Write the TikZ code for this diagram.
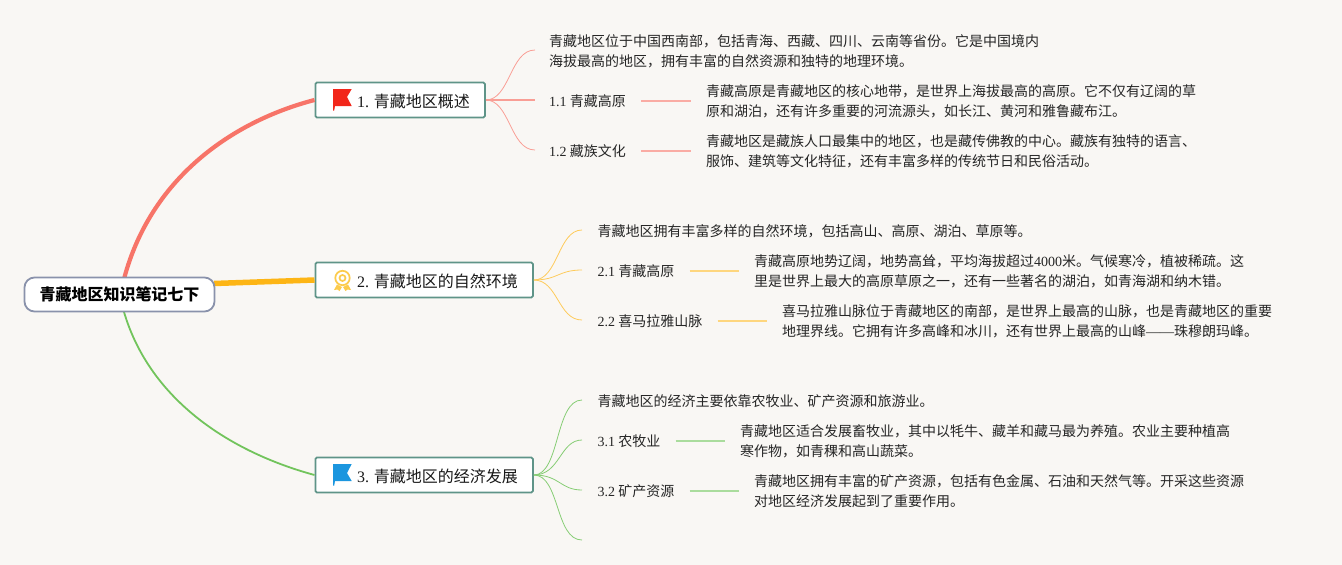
\documentclass[tikz,border=0pt]{standalone}
\usepackage{fontspec}
\setmainfont{Liberation Serif}
\newfontfamily\cjk{Noto Sans CJK SC}
\definecolor{paper}{HTML}{F9F7F4}
\definecolor{tealline}{HTML}{5F9488}
\definecolor{rootline}{HTML}{8A92AB}
\definecolor{redline}{HTML}{F77468}
\definecolor{yellowline}{HTML}{FDB515}
\definecolor{greenline}{HTML}{72C45C}
\definecolor{flagred}{HTML}{F2261A}
\definecolor{flagblue}{HTML}{1B96DF}
\definecolor{badge}{HTML}{FCCB4C}
\newcommand{\lat}[1]{{\rmfamily #1}}
\tikzset{%
  rootnode/.style  = {shape=rectangle, rounded corners=10pt, draw=rootline, line width=1.8pt,%
                      fill=white, font=\fontsize{16}{19}\selectfont\cjk\bfseries,%
                      minimum width=190pt, minimum height=34pt, inner sep=0pt},%
  topicnode/.style = {shape=rectangle, rounded corners=1.5pt, draw=tealline, line width=1.8pt,%
                      fill=white, minimum height=35pt, inner sep=0pt, anchor=west},%
  toptext/.style   = {font=\fontsize{16}{19}\selectfont\cjk, text=black!90, anchor=west, inner sep=0pt},%
  subtext/.style   = {font=\fontsize{14}{20}\selectfont\cjk, text=black!85, anchor=west, inner sep=0pt, align=left},%
  redtwig/.style   = {redline!70, line width=0.8pt},%
  yellowtwig/.style= {yellowline!70, line width=0.8pt},%
  greentwig/.style = {greenline!85, line width=0.8pt},%
  leaf/.style      = {line width=1.3pt, shorten <=15pt, shorten >=15pt, yshift=1pt}%
}
\begin{document}
\begin{tikzpicture}[x=1pt,y=-1pt]
	\useasboundingbox (0,0) rectangle (1342,565);
	\fill [paper] (0,0) rectangle (1342,565);
	% main branches
	\coordinate (rootup) at (124,279);
	\coordinate (rootmid) at (214,283.5);
	\coordinate (rootdown) at (124,312);
	\node [topicnode, minimum width=169.5pt] (topicA) at (314.5,100) {};
	\node [topicnode, minimum width=217.5pt] (topicB) at (314.5,280) {};
	\node [topicnode, minimum width=217.5pt] (topicC) at (314.5,475) {};
	\draw [redline, line width=4.2pt] (rootup) .. controls (150,180) and (230,122) .. (topicA.west);
	\draw [yellowline, line width=5.5pt] (rootmid) -- (topicB.west);
	\draw [greenline, line width=1.8pt] (rootdown) .. controls (150,400) and (230,452) .. (topicC.west);
	\node [rootnode] (root) at (119.5,294.5) {青藏地区知识笔记七下};
	% topic labels
	\node [toptext] (labelA) at (357,101) {\lat{1.} 青藏地区概述};
	\node [toptext] (labelB) at (357,281) {\lat{2.} 青藏地区的自然环境};
	\node [toptext] (labelC) at (357,476) {\lat{3.} 青藏地区的经济发展};
	% markers
	\fill [flagred] (333,89) -- (351.7,89) -- (347,97) -- (351.7,106) -- (335,106) -- (334.2,110.5) -- (333,110.5) -- cycle;
	\begin{scope}[badge, line width=1.7pt]
		\draw (342.5,278) circle (7.2pt);
		\draw (342.5,278) circle (3pt);
		\fill (337,284.5) -- (334,290) -- (337.5,289.5) -- (339.5,291) -- (342,287) -- cycle;
		\fill (348,284.5) -- (351,290) -- (347.5,289.5) -- (345.5,291) -- (343,287) -- cycle;
	\end{scope}
	\fill [flagblue] (333,464) -- (351.7,464) -- (347,473) -- (351.7,481) -- (335,481) -- (334.2,485.7) -- (333,485.7) -- cycle;
	% first topic
	\node [subtext] (noteA) at (549,51) {青藏地区位于中国西南部，包括青海、西藏、四川、云南等省份。它是中国境内\\海拔最高的地区，拥有丰富的自然资源和独特的地理环境。};
	\node [subtext] (itemAa) at (549,101) {\lat{1.1} 青藏高原};
	\node [subtext] (itemAb) at (549,151) {\lat{1.2} 藏族文化};
	\node [subtext] (textAa) at (706,101) {青藏高原是青藏地区的核心地带，是世界上海拔最高的高原。它不仅有辽阔的草\\原和湖泊，还有许多重要的河流源头，如长江、黄河和雅鲁藏布江。};
	\node [subtext] (textAb) at (706,151) {青藏地区是藏族人口最集中的地区，也是藏传佛教的中心。藏族有独特的语言、\\服饰、建筑等文化特征，还有丰富多样的传统节日和民俗活动。};
	\coordinate (noteAend) at (535,50);
	\coordinate (itemAaend) at (535,100);
	\coordinate (itemAbend) at (535,150);
	\draw [redtwig] (topicA.east) .. controls (510,100) and (510,50) .. (noteAend);
	\draw [redtwig, line width=1.1pt] (topicA.east) -- (itemAaend);
	\draw [redtwig] (topicA.east) .. controls (510,100) and (510,150) .. (itemAbend);
	\draw [leaf, redline!60] (itemAa) -- (textAa);
	\draw [leaf, redline!60] (itemAb) -- (textAb);
	% second topic
	\node [subtext] (noteB) at (597.5,231) {青藏地区拥有丰富多样的自然环境，包括高山、高原、湖泊、草原等。};
	\node [subtext] (itemBa) at (597.5,271) {\lat{2.1} 青藏高原};
	\node [subtext] (itemBb) at (597.5,321) {\lat{2.2} 喜马拉雅山脉};
	\node [subtext] (textBa) at (754,271) {青藏高原地势辽阔，地势高耸，平均海拔超过\lat{4000}米。气候寒冷，植被稀疏。这\\里是世界上最大的高原草原之一，还有一些著名的湖泊，如青海湖和纳木错。};
	\node [subtext] (textBb) at (782,321) {喜马拉雅山脉位于青藏地区的南部，是世界上最高的山脉，也是青藏地区的重要\\地理界线。它拥有许多高峰和冰川，还有世界上最高的山峰\lat{——}珠穆朗玛峰。};
	\coordinate (noteBend) at (582,230);
	\coordinate (itemBaend) at (582,270);
	\coordinate (itemBbend) at (582,320);
	\draw [yellowtwig] (topicB.east) .. controls (558,280) and (558,230) .. (noteBend);
	\draw [yellowtwig] (topicB.east) .. controls (558,280) and (558,270) .. (itemBaend);
	\draw [yellowtwig] (topicB.east) .. controls (558,280) and (558,320) .. (itemBbend);
	\draw [leaf, yellowline!55] (itemBa.east) -- (textBa.west);
	\draw [leaf, yellowline!55] (itemBb.east) -- (textBb.west);
	% third topic
	\node [subtext] (noteC) at (597.5,401) {青藏地区的经济主要依靠农牧业、矿产资源和旅游业。};
	\node [subtext] (itemCa) at (597.5,441) {\lat{3.1} 农牧业};
	\node [subtext] (itemCb) at (597.5,491) {\lat{3.2} 矿产资源};
	\node [subtext] (textCa) at (740,441) {青藏地区适合发展畜牧业，其中以牦牛、藏羊和藏马最为养殖。农业主要种植高\\寒作物，如青稞和高山蔬菜。};
	\node [subtext] (textCb) at (754,491) {青藏地区拥有丰富的矿产资源，包括有色金属、石油和天然气等。开采这些资源\\对地区经济发展起到了重要作用。};
	\coordinate (noteCend) at (582,400);
	\coordinate (itemCaend) at (582,440);
	\coordinate (itemCbend) at (582,490);
	\coordinate (blankCend) at (582,540);
	\draw [greentwig] (topicC.east) .. controls (560,475) and (555,400) .. (noteCend);
	\draw [greentwig] (topicC.east) .. controls (560,475) and (560,440) .. (itemCaend);
	\draw [greentwig] (topicC.east) .. controls (560,475) and (560,490) .. (itemCbend);
	\draw [greentwig] (topicC.east) .. controls (560,475) and (555,540) .. (blankCend);
	\draw [leaf, greenline!60] (itemCa.east) -- (textCa.west);
	\draw [leaf, greenline!60] (itemCb.east) -- (textCb.west);
\end{tikzpicture}
\end{document}
